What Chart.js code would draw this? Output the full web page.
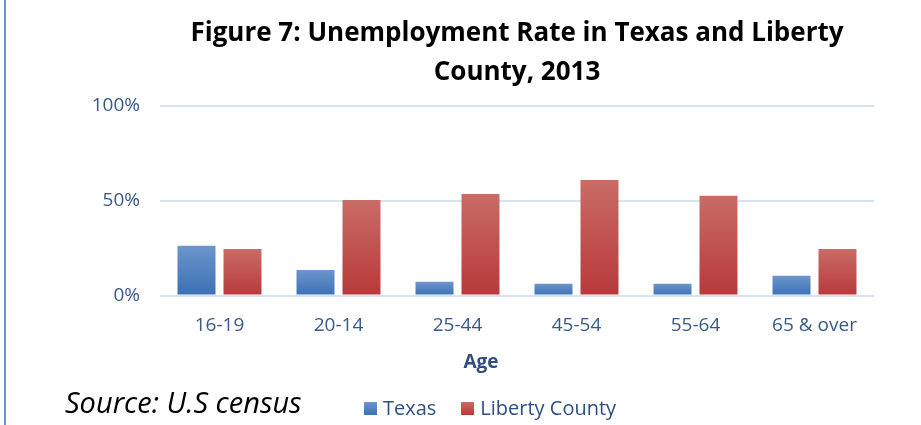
<!DOCTYPE html>
<html>
<head>
<meta charset="utf-8">
<script src="https://cdn.jsdelivr.net/npm/chart.js@4.4.1/dist/chart.umd.min.js"></script>
<style>
  html, body { margin: 0; padding: 0; background: #fff; }
  #wrap { position: relative; width: 921px; height: 425px; overflow: hidden; }
  #edge { position: absolute; left: 4px; top: 0; width: 2px; height: 425px; background: #6b93cb; }
  #chart { position: absolute; left: 0; top: 0; }
  .txt { position: absolute; font-family: "Open Sans", sans-serif; line-height: 1; white-space: nowrap; }
  #axis-title { left: 481px; top: 352px; transform: translateX(-50%); font-weight: bold; font-size: 19px; color: #2d4f80; }
  #source { left: 65px; top: 387px; font-style: italic; font-size: 29px; color: #000; }
  #legend { position: absolute; left: 364px; top: 398px; display: flex; font-family: "Open Sans", sans-serif; font-size: 20px; line-height: 1; color: #2d4f80; }
  #legend .item { display: flex; align-items: flex-start; margin-right: 25px; }
  #legend .sw { width: 13px; height: 13px; margin-top: 4px; margin-right: 6px; }
</style>
</head>
<body>
<div id="wrap">
  <div id="edge"></div>
  <canvas id="chart" width="921" height="425"></canvas>
  <div class="txt" id="axis-title">Age</div>
  <div class="txt" id="source">Source: U.S census</div>
  <div id="legend"></div>
</div>
<script>
// data (percent)
const ageGroups = ["16-19", "20-14", "25-44", "45-54", "55-64", "65 & over"];
const texasRate = [26.2, 13.5, 7.2, 6.2, 6.2, 10.4];
const libertyRate = [24.6, 50.4, 53.6, 61, 52.6, 24.6];
const yTicks = [0, 50, 100];

const titleLines = ["Figure 7: Unemployment Rate in Texas and Liberty", "County, 2013"];

// per-bar vertical gradient, lighter at the top like the Excel original
function barFill(topColor, bottomColor) {
  return (ctx) => {
    const chart = ctx.chart;
    if (!chart.chartArea || !ctx.parsed) return bottomColor;
    const y = chart.scales.y;
    const y0 = y.getPixelForValue(ctx.parsed.y);
    const y1 = y.getPixelForValue(0);
    if (!isFinite(y0) || y1 - y0 < 1) return bottomColor;
    const g = chart.ctx.createLinearGradient(0, y0, 0, y1);
    g.addColorStop(0, topColor);
    g.addColorStop(1, bottomColor);
    return g;
  };
}

const series = [
  { label: "Texas", data: texasRate, top: "#6c95cb", bottom: "#3b71b6" },
  { label: "Liberty County", data: libertyRate, top: "#c96c66", bottom: "#b8393a" }
];

const tickColor = "#37598a";

const chart = new Chart(document.getElementById("chart"), {
  type: "bar",
  data: {
    labels: ageGroups,
    datasets: series.map(s => ({
      label: s.label,
      data: s.data,
      backgroundColor: barFill(s.top, s.bottom),
      borderWidth: 0,
      categoryPercentage: 0.773,
      barPercentage: 0.826
    }))
  },
  options: {
    responsive: false,
    animation: false,
    layout: { padding: { left: 0, right: 47, top: 0, bottom: 0 } },
    plugins: {
      legend: { display: false },
      tooltip: { enabled: false },
      title: {
        display: true,
        fullSize: false,
        text: titleLines,
        color: "#000",
        font: { family: "Open Sans", weight: "bold", size: 26, lineHeight: 1.5 },
        padding: { top: 14, bottom: 14 }
      }
    },
    scales: {
      x: {
        grid: { display: false, drawTicks: false },
        border: { display: false },
        ticks: { color: tickColor, font: { family: "Open Sans", size: 19 }, padding: 19, maxRotation: 0 },
        afterFit: (scale) => { scale.height = 129.5; }
      },
      y: {
        min: 0,
        max: 100,
        afterBuildTicks: (scale) => { scale.ticks = yTicks.map(v => ({ value: v })); },
        grid: { color: "#d8e3f2", lineWidth: 2, drawTicks: false },
        border: { display: false },
        ticks: {
          color: tickColor,
          font: { family: "Open Sans", size: 19 },
          padding: 20,
          callback: (v) => v + "%"
        },
        afterFit: (scale) => { scale.width = 160; }
      }
    }
  }
});

// legend built from the chart's own datasets
const legendEl = document.getElementById("legend");
series.forEach(s => {
  const item = document.createElement("div");
  item.className = "item";
  const sw = document.createElement("div");
  sw.className = "sw";
  sw.style.background = `linear-gradient(${s.top}, ${s.bottom})`;
  const lbl = document.createElement("span");
  lbl.textContent = s.label;
  item.appendChild(sw);
  item.appendChild(lbl);
  legendEl.appendChild(item);
});
</script>
</body>
</html>
